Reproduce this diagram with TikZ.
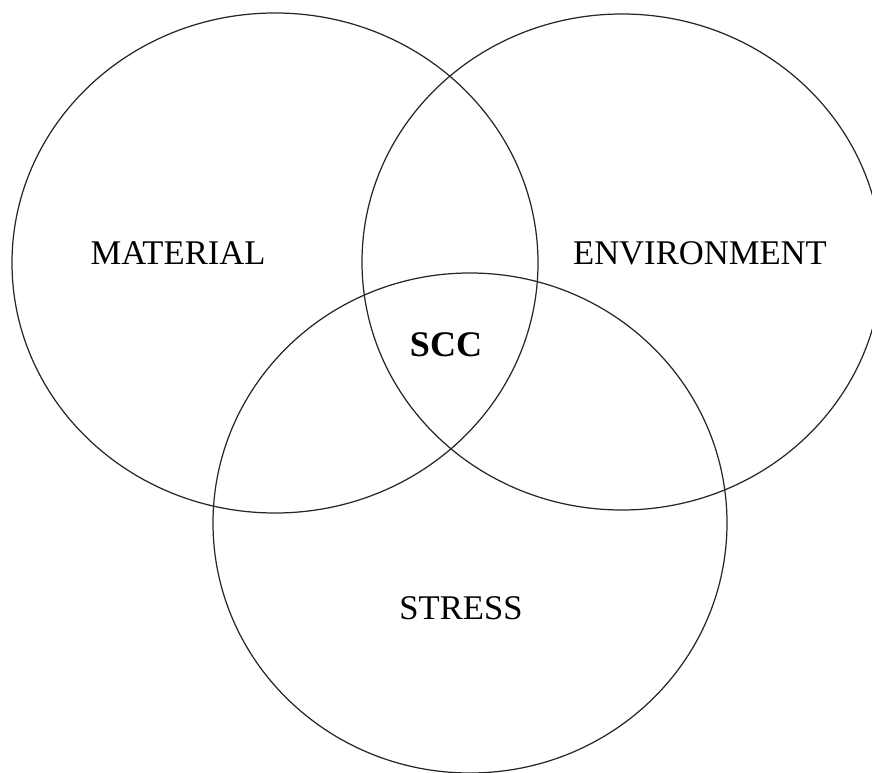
\documentclass[tikz,border=0pt]{standalone}
\usepackage{fontspec}
\setmainfont{Liberation Serif}
\usetikzlibrary{positioning}

\begin{document}
\begin{tikzpicture}[x=0.02cm, y=-0.02cm,
    ring/.style={line width=0.7pt, draw=black!85},
    label/.style={font=\fontsize{19.7}{22}\selectfont, inner sep=0pt}]

%---------------------------------------
% Frame
%---------------------------------------
\useasboundingbox (0,0) rectangle (872,773);
\clip (0,0) rectangle (872,773);

% Circle centres and radii
\def\rx{260}
\def\ry{250}
\coordinate (mat) at (275,263);
\coordinate (env) at (622,262);
\coordinate (str) at (470,523);

%---------------------------------------
% The three circles
%---------------------------------------
\draw[ring] (mat) ellipse [x radius=\rx+3, y radius=\ry];
\draw[ring] (env) ellipse [x radius=\rx, y radius=\ry-2];
\draw[ring] (str) ellipse [x radius=\rx-3, y radius=\ry];

% Labels
\node[label] (material) at (178,253) {MATERIAL};
\node[label] (environment) at (700,253) {ENVIRONMENT};
\node[label] (stress) at (461,608) {STRESS};
\node[label, font=\fontsize{20.5}{22}\selectfont\bfseries] (scc) at (446,345) {SCC};

\end{tikzpicture}
\end{document}
